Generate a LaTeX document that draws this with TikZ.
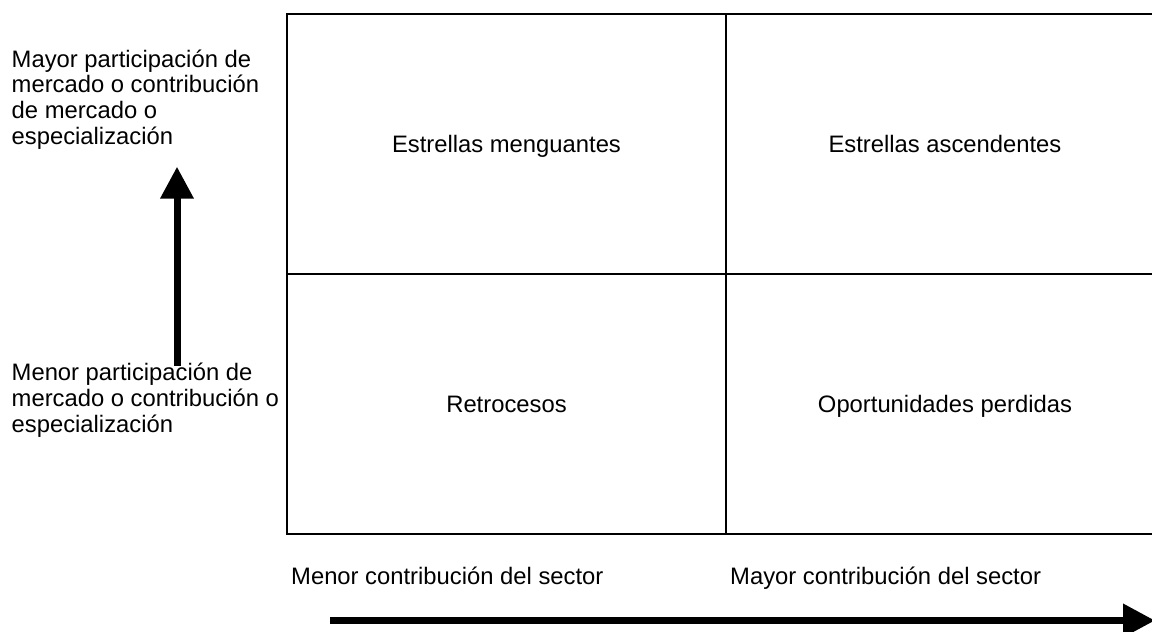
\documentclass[tikz,border=0pt]{standalone}
\usepackage{fontspec}
\setmainfont{Liberation Sans}
\usetikzlibrary{arrows.meta}
\begin{document}
\begin{tikzpicture}[x=1pt,y=-1pt,
  grid/.style={line width=2.7pt},
  lbl/.style={inner sep=0pt,font={\fontsize{23.8}{25.9}\selectfont},align=left},
  celltext/.style={inner sep=0pt,font={\fontsize{23.8}{25.9}\selectfont}},
  bigarrow/.style={line width=7pt,-{Triangle[length=32pt,width=32pt]}}]
\useasboundingbox (0,0) rectangle (1152,632);
\clip (0,0) rectangle (1152,632);
% grid
\coordinate (tl) at (287,14);
\coordinate (br) at (1165,534);
\draw[grid] (tl) rectangle (br);
\draw[grid] (726,14) -- (726,534);
\draw[grid] (287,274) -- (1165,274);
% cell texts
\node[celltext,anchor=base] (c1) at (506.5,152.5) {Estrellas menguantes};
\node[celltext,anchor=base] (c2) at (945,152.5) {Estrellas ascendentes};
\node[celltext,anchor=base] (c3) at (506.5,412.5) {Retrocesos};
\node[celltext,anchor=base] (c4) at (945,412.5) {Oportunidades perdidas};
% left labels
\node[lbl,anchor=north west] (up) at (11.5,46.8) {\rule{0pt}{20pt}Mayor participación de\\mercado o contribución\\de mercado o\\especialización};
\node[lbl,anchor=north west] (down) at (11.5,360) {\rule{0pt}{20pt}Menor participación de\\mercado o contribución o\\especialización};
% bottom labels
\node[celltext,anchor=base west] (bl) at (291,584.5) {Menor contribución del sector};
\node[celltext,anchor=base west] (br2) at (730,584.5) {Mayor contribución del sector};
% arrows
\coordinate (v0) at (177,366);
\coordinate (v1) at (177,166.7);
\draw[bigarrow] (v0) -- (v1);
\coordinate (h0) at (330,620.5);
\coordinate (h1) at (1155,620.5);
\draw[bigarrow] (h0) -- (h1);
\end{tikzpicture}
\end{document}
